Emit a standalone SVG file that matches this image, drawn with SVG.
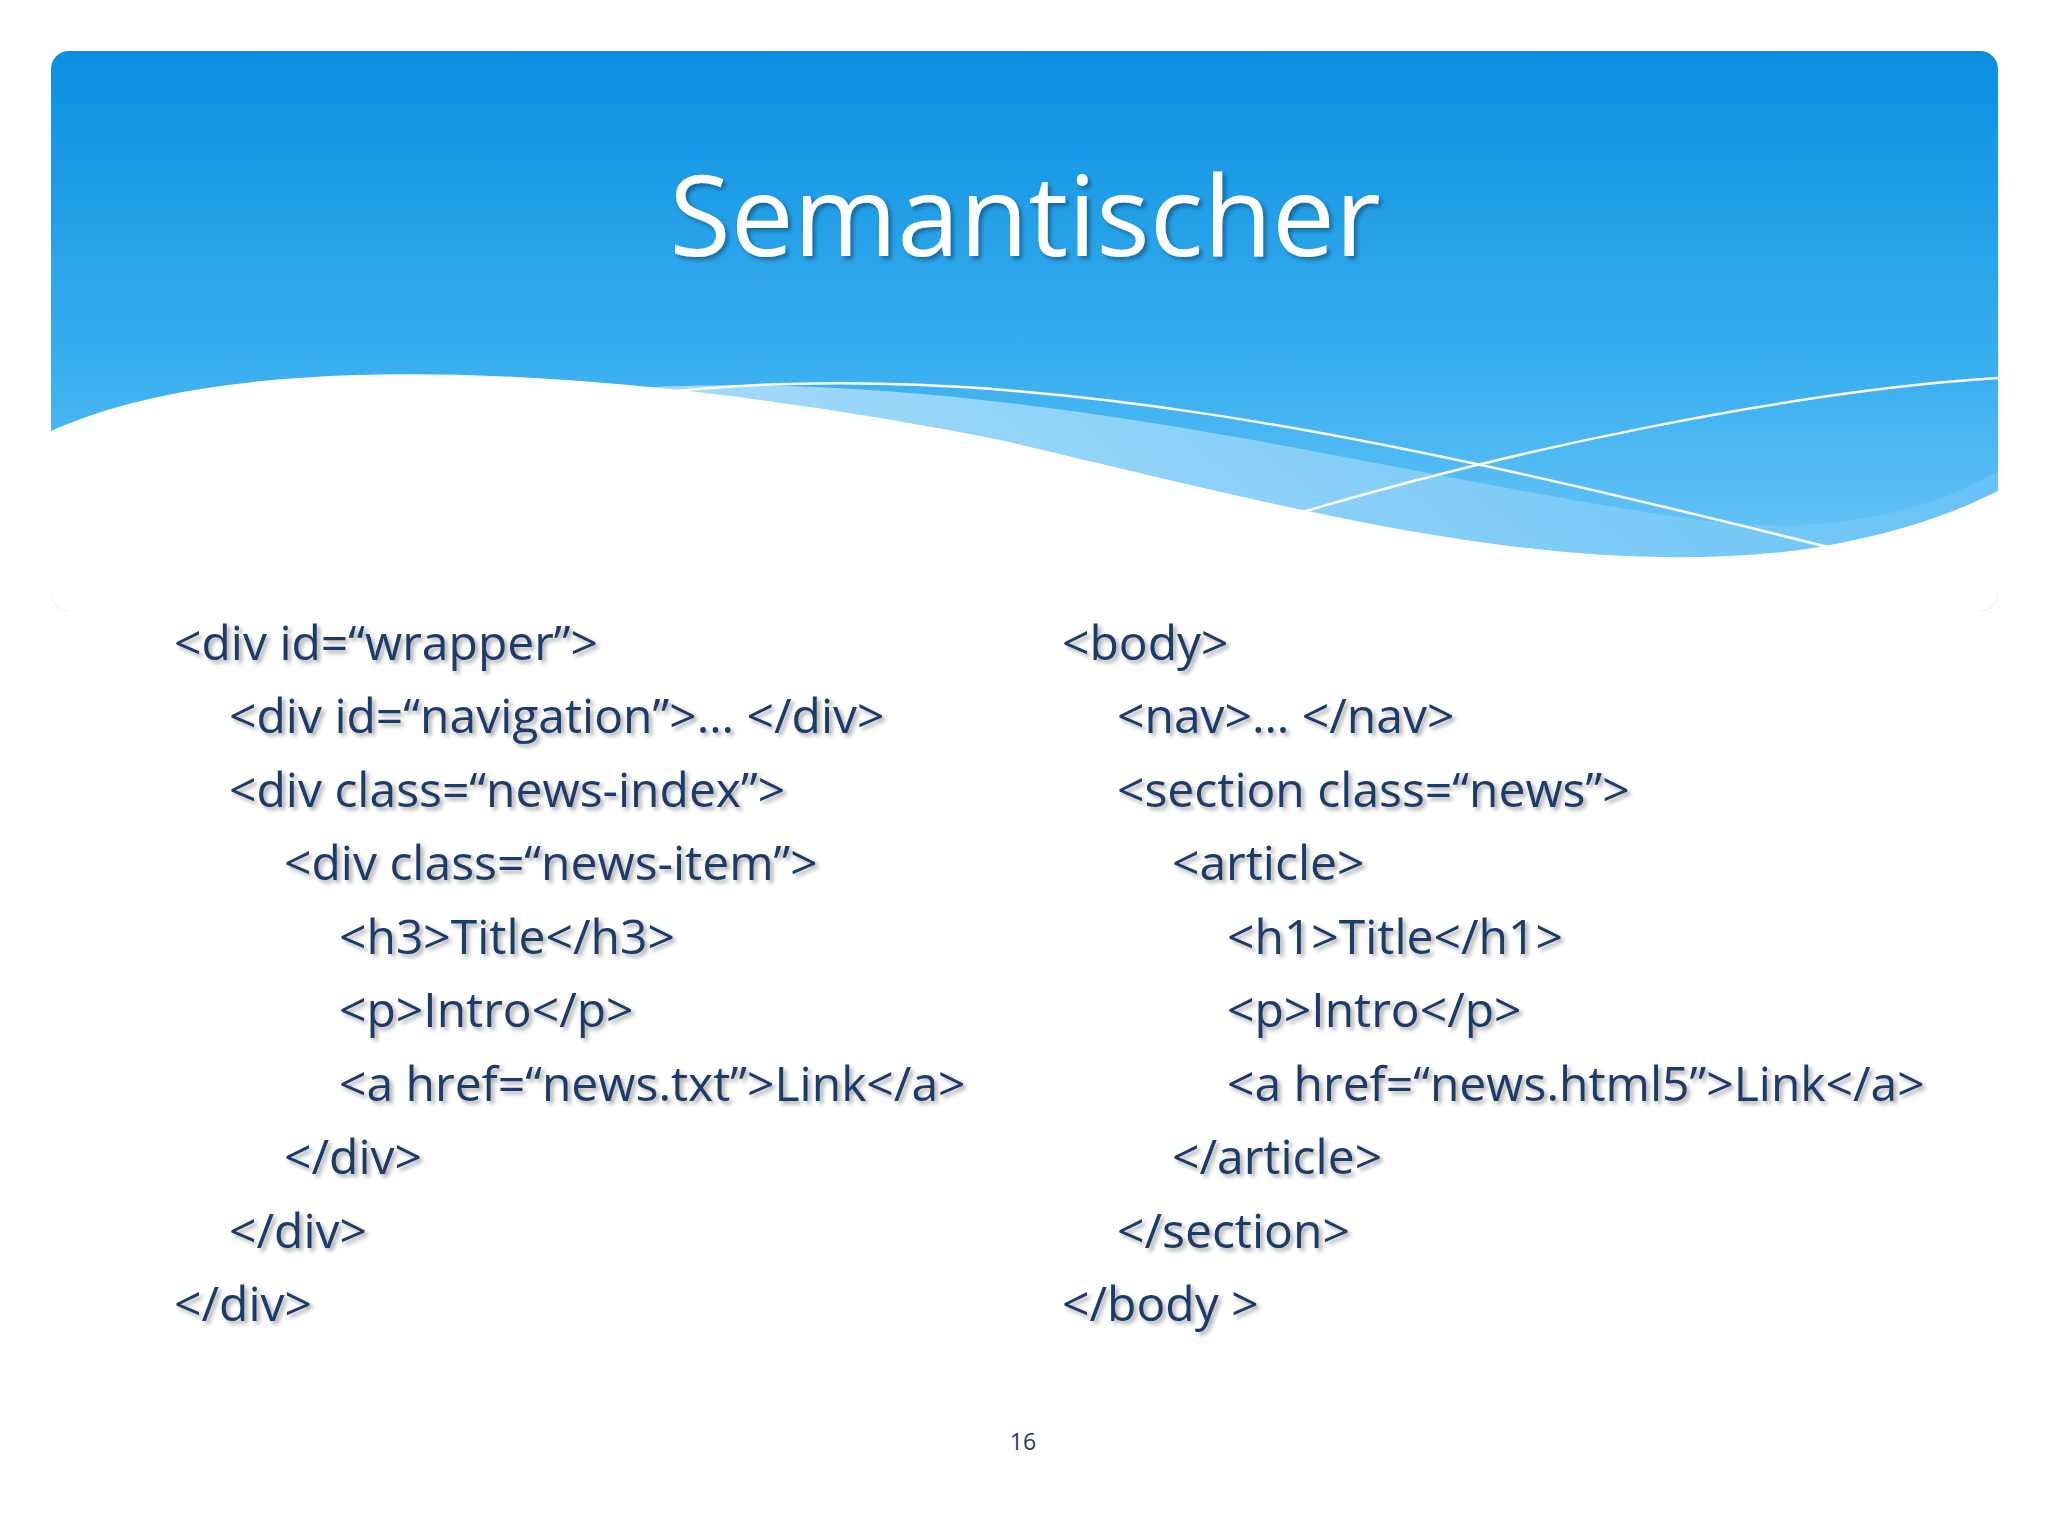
<svg xmlns="http://www.w3.org/2000/svg" width="2048" height="1536" viewBox="0 0 2048 1536">
<defs>
<linearGradient id="hg" x1="0" y1="0" x2="0" y2="1">
<stop offset="0" stop-color="#0a8fe0"/><stop offset="0.55" stop-color="#3cb0f0"/><stop offset="1" stop-color="#7fd0fb"/>
</linearGradient>
<linearGradient id="wg" x1="0" y1="0" x2="1" y2="0">
<stop offset="0" stop-color="#bfe6fd"/><stop offset="1" stop-color="#6cc3f5"/>
</linearGradient>
<filter id="sh" x="-5%" y="-20%" width="110%" height="140%"><feDropShadow dx="3" dy="3" stdDeviation="2" flood-color="#000" flood-opacity="0.35"/></filter>
<clipPath id="hc"><rect x="51" y="51" width="1947" height="560" rx="18"/></clipPath>
</defs>
<style>
.c{font-family:"Open Sans","Liberation Sans",sans-serif;font-size:48px;fill:#1f3a68;filter:url(#sh)}
</style>
<rect width="2048" height="1536" fill="#fff"/>
<g id="header" clip-path="url(#hc)">
<rect x="51" y="51" width="1947" height="600" fill="url(#hg)"/>
<path d="M600 390 C1000 360 1400 480 1700 520 C1850 540 1950 500 2000 470 L2000 700 L600 700Z" fill="url(#wg)" opacity="0.8"/>
<path d="M51 431 C250 340 650 370 1000 440 C1300 510 1550 580 1800 550 C1900 535 1960 510 2000 490 L2000 700 L51 700Z" fill="#fff"/>
<path d="M640 395 C1000 350 1400 440 1840 550" fill="none" stroke="#fff" stroke-width="2.5"/>
<path d="M1260 525 C1500 450 1800 390 2000 378" fill="none" stroke="#fff" stroke-width="2.5"/>
</g>
<text x="1025" y="256" text-anchor="middle" font-family="Open Sans,Liberation Sans,sans-serif" font-size="112" fill="#fff" filter="url(#sh)">Semantischer</text>
<g id="left">
<text class="c" x="174" y="660">&lt;div id=“wrapper”&gt;</text>
<text class="c" x="229" y="733">&lt;div id=“navigation”&gt;… &lt;/div&gt;</text>
<text class="c" x="229" y="807">&lt;div class=“news-index”&gt;</text>
<text class="c" x="284" y="880">&lt;div class=“news-item”&gt;</text>
<text class="c" x="339" y="954">&lt;h3&gt;Title&lt;/h3&gt;</text>
<text class="c" x="339" y="1027">&lt;p&gt;Intro&lt;/p&gt;</text>
<text class="c" x="339" y="1101">&lt;a href=“news.txt”&gt;Link&lt;/a&gt;</text>
<text class="c" x="284" y="1174">&lt;/div&gt;</text>
<text class="c" x="229" y="1248">&lt;/div&gt;</text>
<text class="c" x="174" y="1321">&lt;/div&gt;</text>
</g>
<g id="right">
<text class="c" x="1062" y="660">&lt;body&gt;</text>
<text class="c" x="1117" y="733">&lt;nav&gt;… &lt;/nav&gt;</text>
<text class="c" x="1117" y="807">&lt;section class=“news”&gt;</text>
<text class="c" x="1172" y="880">&lt;article&gt;</text>
<text class="c" x="1227" y="954">&lt;h1&gt;Title&lt;/h1&gt;</text>
<text class="c" x="1227" y="1027">&lt;p&gt;Intro&lt;/p&gt;</text>
<text class="c" x="1227" y="1101">&lt;a href=“news.html5”&gt;Link&lt;/a&gt;</text>
<text class="c" x="1172" y="1174">&lt;/article&gt;</text>
<text class="c" x="1117" y="1248">&lt;/section&gt;</text>
<text class="c" x="1062" y="1321">&lt;/body &gt;</text>
</g>
<text x="1023" y="1450" text-anchor="middle" font-family="Open Sans,Liberation Sans,sans-serif" font-size="23" fill="#1f3a68">16</text>
</svg>
